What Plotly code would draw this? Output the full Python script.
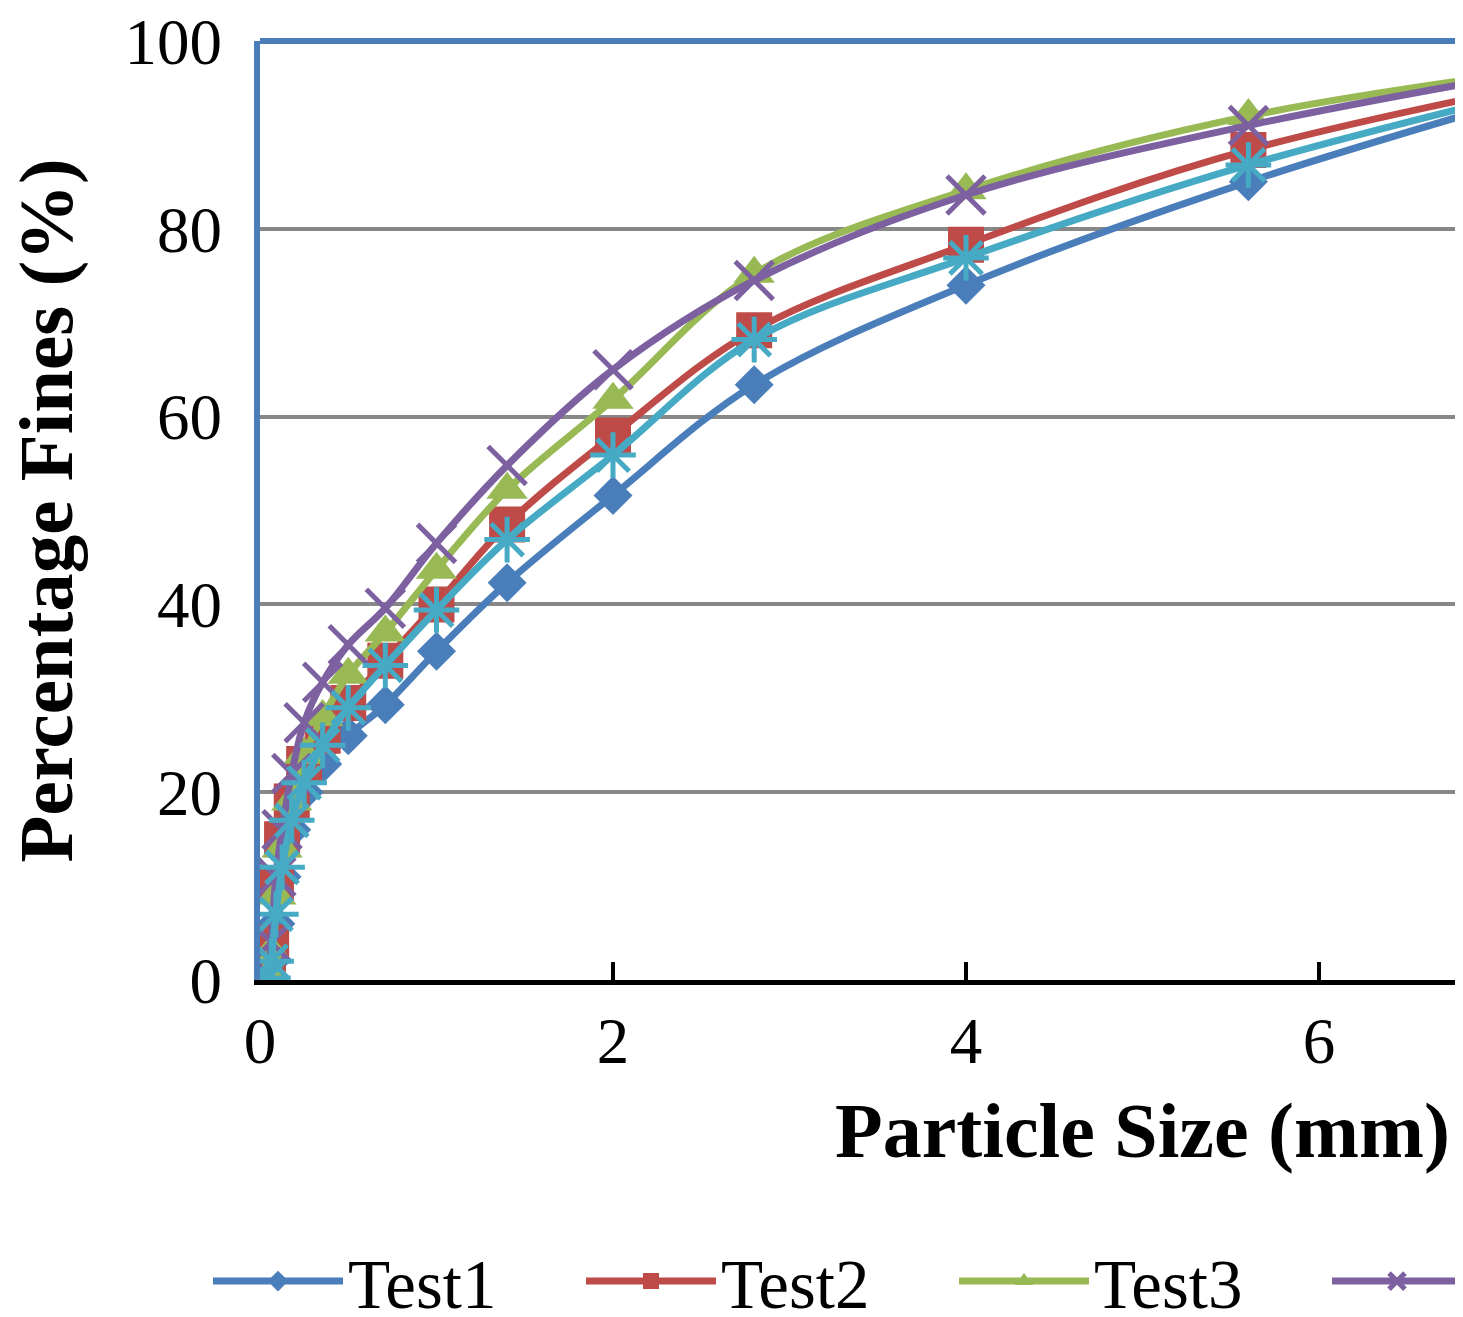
import plotly.graph_objects as go

# Sieve sizes (mm)
particle_size = [0.045, 0.063, 0.09, 0.125, 0.18, 0.25, 0.355, 0.5, 0.71, 1.0, 1.4, 2.0, 2.8, 4.0, 5.6, 8.0]

test1 = [0.3, 2, 6, 11, 16, 20, 23, 26, 29.3, 35.0, 42.3, 51.6, 63.4, 74.0, 85.0, 98.5]
test2 = [0.8, 4, 10, 15, 19, 23, 26, 29.5, 34.0, 40.0, 48.5, 58.0, 69.2, 78.3, 88.4, 98.2]
test3 = [0.5, 3, 9, 14, 19, 24, 28, 32.5, 37.0, 43.7, 52.2, 61.8, 75.2, 84.1, 92.0, 98.8]
test4 = [0.6, 4, 11, 16, 22, 27.4, 31.7, 35.7, 39.6, 46.5, 54.8, 65.0, 74.5, 83.6, 91.0, 99.3]
test5 = [0.2, 2, 7, 12, 17, 21, 25, 29.0, 33.5, 39.4, 46.9, 55.9, 68.2, 76.9, 86.8, 98.3]

series_names = ["Test1", "Test2", "Test3", "Test4", "Test5"]
series_values = [test1, test2, test3, test4, test5]
colors = ["#4A7EBB", "#BE4B48", "#98B954", "#7D60A0", "#46AAC5"]
symbols = ["diamond", "square", "triangle-up", "x-thin-open", "asterisk-open"]
sizes = [30, 36, 36, 38, 38]

x_ticks = [0, 2, 4, 6, 8, 10]
y_ticks = [0, 20, 40, 60, 80, 100]

x_title = "Particle Size (mm)"
y_title = "Percentage Fines (%)"

FONT = "Liberation Serif"

fig = go.Figure()
for name, vals, c, sym, sz in zip(series_names, series_values, colors, symbols, sizes):
    open_sym = sym.endswith("open")
    fig.add_trace(go.Scatter(
        x=particle_size, y=vals, name=name, mode="lines+markers",
        line=dict(color=c, width=7, shape="spline", smoothing=1),
        marker=dict(symbol=sym, size=sz, color=c,
                    line=dict(color=c, width=5 if open_sym else 0)),
    ))

fig.add_shape(type="line", xref="paper", yref="paper", x0=0, x1=1, y0=1, y1=1,
              line=dict(color="#4A7EBB", width=6), layer="below")

W = 2300
PLOT_W = 1765
# y-axis title as a rotated annotation left of the tick labels
fig.add_annotation(text=f"<b>{y_title}</b>", xref="paper", yref="paper",
                   x=(37 - 252) / PLOT_W, y=0.5, xanchor="center", yanchor="middle",
                   textangle=-90, showarrow=False,
                   font=dict(family=FONT, size=77, color="black"))

fig.update_layout(
    width=W, height=1420,
    margin=dict(l=252, r=W - 252 - PLOT_W, t=33, b=448, autoexpand=False),
    paper_bgcolor="white", plot_bgcolor="white",
    font=dict(family=FONT, color="black"),
    showlegend=True,
    legend=dict(orientation="h", xref="container", x=200 / W, xanchor="left",
                y=-0.266, yanchor="top",
                font=dict(family=FONT, size=69, color="black"),
                entrywidth=228, itemwidth=130),
    xaxis=dict(range=[0, 10], tickvals=x_ticks, ticktext=[str(v) for v in x_ticks],
               showline=True, linecolor="black", linewidth=5,
               ticks="inside", ticklen=18, tickwidth=4, tickcolor="black",
               showgrid=False, zeroline=False,
               tickfont=dict(family=FONT, size=65, color="black"),
               ticklabelstandoff=0,
               title=dict(text=f"<b>{x_title}</b>", standoff=28,
                          font=dict(family=FONT, size=78, color="black"))),
    yaxis=dict(range=[0, 100], tickvals=y_ticks, ticktext=[str(v) for v in y_ticks],
               showline=True, linecolor="#4A7EBB", linewidth=6,
               ticks="", showgrid=True, gridcolor="#878787", gridwidth=4,
               zeroline=False, ticklabeloverflow="allow",
               tickfont=dict(family=FONT, size=65, color="black"),
               ticklabelstandoff=19),
)

fig.write_html("out.html")
